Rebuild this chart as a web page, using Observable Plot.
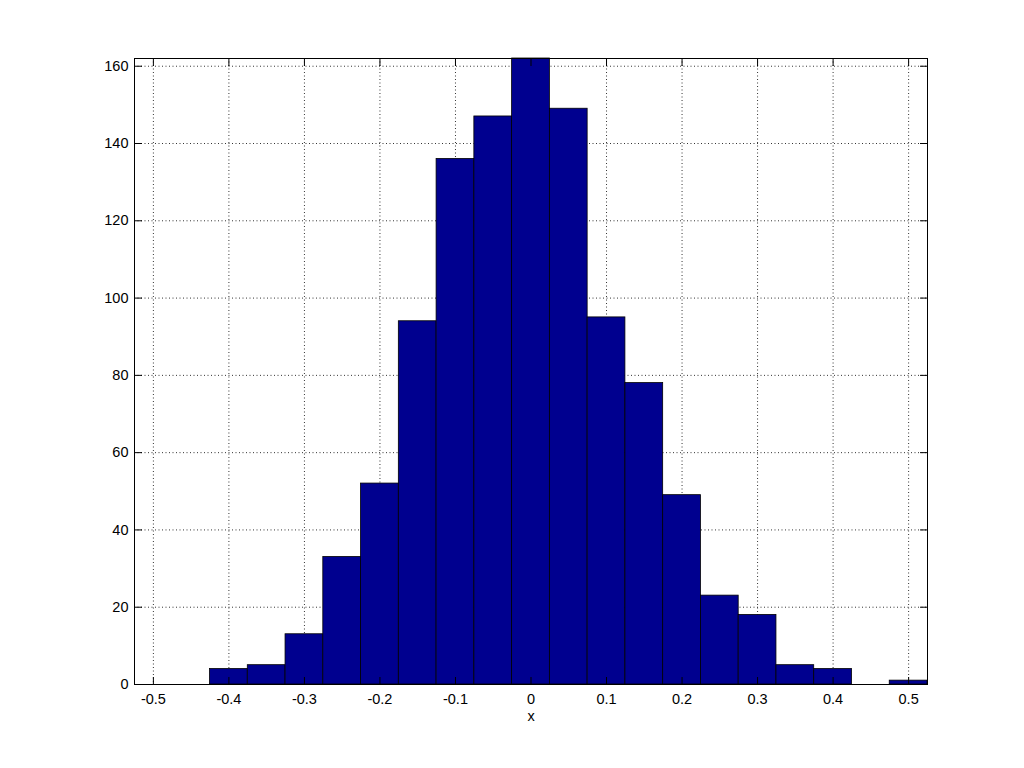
<!DOCTYPE html>
<html>
<head>
<meta charset="utf-8">
<script src="https://cdn.jsdelivr.net/npm/d3@7"></script>
<script src="https://cdn.jsdelivr.net/npm/@observablehq/plot@0.6"></script>
<style>
  html, body { margin: 0; padding: 0; background: #fff; }
  #chart { width: 1024px; height: 768px; }
</style>
</head>
<body>
<div id="chart"></div>
<script>
// Histogram data (bin centers and counts)
const binCenters = [-0.5, -0.45, -0.4, -0.35, -0.3, -0.25, -0.2, -0.15, -0.1, -0.05, 0,
                    0.05, 0.1, 0.15, 0.2, 0.25, 0.3, 0.35, 0.4, 0.45, 0.5];
const counts = [0, 0, 4, 5, 13, 33, 52, 94, 136, 147, 162,
                149, 95, 78, 49, 23, 18, 5, 4, 0, 1];
const binWidth = 0.05;
const xTicks = [-0.5, -0.4, -0.3, -0.2, -0.1, 0, 0.1, 0.2, 0.3, 0.4, 0.5];
const yTicks = [0, 20, 40, 60, 80, 100, 120, 140, 160];
const xLabel = "x";

const bins = binCenters.map((c, i) => ({x1: c - binWidth / 2, x2: c + binWidth / 2, count: counts[i]}));
const xDomain = [binCenters[0] - binWidth / 2, binCenters[binCenters.length - 1] + binWidth / 2];
const yDomain = [0, d3.max(counts)];

const fmt = d => (d === 0 ? "0" : String(d));
const font = "'Liberation Sans', Arial, Helvetica, sans-serif";
const fs = 14.5;

const chart = Plot.plot({
  width: 1024,
  height: 768,
  marginLeft: 134,
  marginRight: 97,
  marginTop: 58,
  marginBottom: 84,
  style: {fontFamily: font, fontSize: fs + "px", background: "#fff", color: "#000"},
  x: {domain: xDomain, ticks: xTicks},
  y: {domain: yDomain, ticks: yTicks},
  marks: [
    Plot.gridX(xTicks, {stroke: "#000", strokeOpacity: 0.8, strokeDasharray: "1,2.5"}),
    Plot.gridY(yTicks, {stroke: "#000", strokeOpacity: 0.8, strokeDasharray: "1,2.5"}),
    Plot.rectY(bins.filter(d => d.count > 0), {x1: "x1", x2: "x2", y1: 0, y2: "count",
      fill: "#00008f", stroke: "#000", strokeWidth: 0.8}),
    // tick labels
    Plot.axisX(xTicks, {anchor: "bottom", tickSize: 0, tickPadding: 9, tickFormat: fmt, label: null, fontSize: fs}),
    Plot.axisY(yTicks, {anchor: "left", tickSize: 0, tickPadding: 6, tickFormat: fmt, label: null, fontSize: fs}),
    // inward ticks on all four sides
    Plot.axisX(xTicks, {anchor: "bottom", tickSize: -7, tickFormat: () => "", label: null}),
    Plot.axisX(xTicks, {anchor: "top", tickSize: -7, tickFormat: () => "", label: null}),
    Plot.axisY(yTicks, {anchor: "left", tickSize: -8, tickFormat: () => "", label: null}),
    Plot.axisY(yTicks, {anchor: "right", tickSize: -8, tickFormat: () => "", label: null}),
    Plot.frame({stroke: "#000", strokeWidth: 1}),
    Plot.text([xLabel], {frameAnchor: "bottom", dy: 36, fontSize: fs, fill: "#000"})
  ]
});
document.getElementById("chart").appendChild(chart);
</script>
</body>
</html>
